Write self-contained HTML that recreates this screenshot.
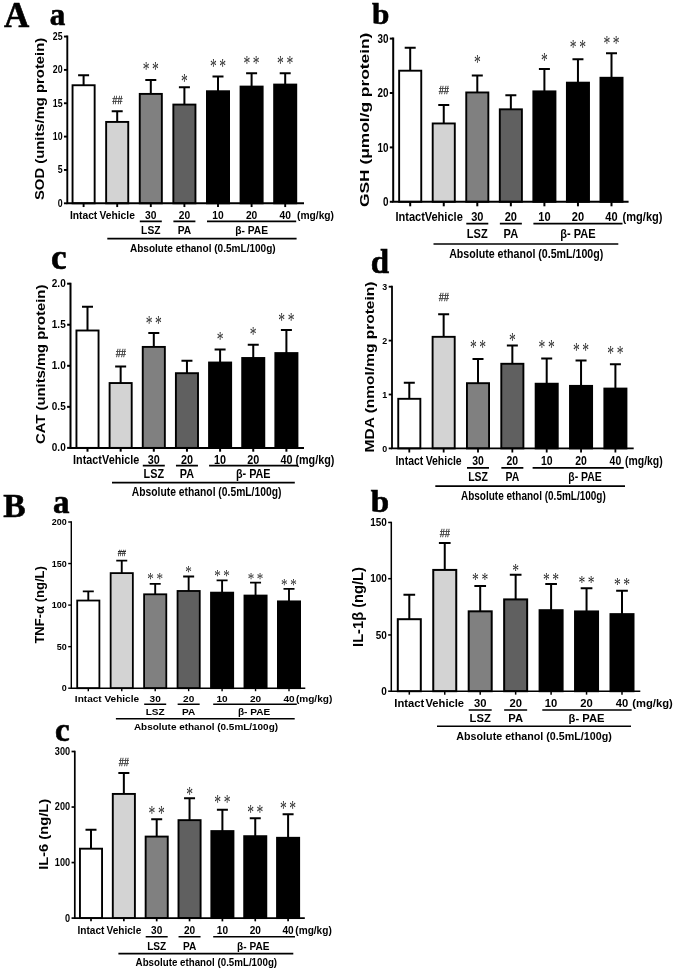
<!DOCTYPE html>
<html lang="en"><head><meta charset="utf-8"><title>Figure</title>
<style>
html,body{margin:0;padding:0;background:#fff}
svg{display:block;filter:grayscale(1)}
.s{font-family:"Liberation Sans","DejaVu Sans",sans-serif}
.r{font-family:"Liberation Serif","DejaVu Serif",serif}
</style></head><body>
<svg width="675" height="972" viewBox="0 0 675 972">
<rect width="675" height="972" fill="#fff"/>
<text class="r" transform="translate(4.00 27.30) scale(1.000 1.000)" font-size="35" text-anchor="start" font-weight="bold" fill="#000" stroke="#000" stroke-width="0.6">A</text>
<text class="r" transform="translate(3.30 517.20) scale(1.000 1.000)" font-size="33.5" text-anchor="start" font-weight="bold" fill="#000" stroke="#000" stroke-width="0.6">B</text>
<g>
<path d="M83.60 85.24V75.24M78.10 75.24H89.10" stroke="#000" stroke-width="2.0" fill="none"/>
<rect x="72.55" y="85.24" width="22.10" height="118.06" fill="#ffffff" stroke="#000" stroke-width="1.9"/>
<path d="M83.60 203.30v3.75" stroke="#000" stroke-width="1.9"/>
<path d="M117.20 121.93V111.25M111.70 111.25H122.70" stroke="#000" stroke-width="2.0" fill="none"/>
<rect x="106.15" y="121.93" width="22.10" height="81.37" fill="#d3d3d3" stroke="#000" stroke-width="1.9"/>
<path d="M117.20 203.30v3.75" stroke="#000" stroke-width="1.9"/>
<text class="s" transform="translate(117.20 104.17) scale(0.860 1.000)" font-size="10.5" text-anchor="middle" fill="#222" font-style="italic" stroke="#222" stroke-width="0.25">##</text>
<path d="M150.80 93.91V79.91M145.30 79.91H156.30" stroke="#000" stroke-width="2.0" fill="none"/>
<rect x="139.75" y="93.91" width="22.10" height="109.39" fill="#808080" stroke="#000" stroke-width="1.9"/>
<path d="M150.80 203.30v3.75" stroke="#000" stroke-width="1.9"/>
<text class="r" transform="translate(152.05 75.69) scale(0.850 1.300)" font-size="16" text-anchor="middle" fill="#2a2a2a" letter-spacing="3">**</text>
<path d="M184.40 104.58V87.24M178.90 87.24H189.90" stroke="#000" stroke-width="2.0" fill="none"/>
<rect x="173.35" y="104.58" width="22.10" height="98.72" fill="#606060" stroke="#000" stroke-width="1.9"/>
<path d="M184.40 203.30v3.75" stroke="#000" stroke-width="1.9"/>
<text class="r" transform="translate(185.65 87.69) scale(0.850 1.300)" font-size="16" text-anchor="middle" fill="#2a2a2a" letter-spacing="3">*</text>
<path d="M218.00 91.24V76.57M212.50 76.57H223.50" stroke="#000" stroke-width="2.0" fill="none"/>
<rect x="206.95" y="91.24" width="22.10" height="112.06" fill="#000000" stroke="#000" stroke-width="1.9"/>
<path d="M218.00 203.30v3.75" stroke="#000" stroke-width="1.9"/>
<text class="r" transform="translate(219.25 73.19) scale(0.850 1.300)" font-size="16" text-anchor="middle" fill="#2a2a2a" letter-spacing="3">**</text>
<path d="M251.60 86.58V73.24M246.10 73.24H257.10" stroke="#000" stroke-width="2.0" fill="none"/>
<rect x="240.55" y="86.58" width="22.10" height="116.72" fill="#000000" stroke="#000" stroke-width="1.9"/>
<path d="M251.60 203.30v3.75" stroke="#000" stroke-width="1.9"/>
<text class="r" transform="translate(252.85 69.69) scale(0.850 1.300)" font-size="16" text-anchor="middle" fill="#2a2a2a" letter-spacing="3">**</text>
<path d="M285.20 84.57V73.24M279.70 73.24H290.70" stroke="#000" stroke-width="2.0" fill="none"/>
<rect x="274.15" y="84.57" width="22.10" height="118.73" fill="#000000" stroke="#000" stroke-width="1.9"/>
<path d="M285.20 203.30v3.75" stroke="#000" stroke-width="1.9"/>
<text class="r" transform="translate(286.45 70.19) scale(0.850 1.300)" font-size="16" text-anchor="middle" fill="#2a2a2a" letter-spacing="3">**</text>
<path d="M67.30 35.60V203.30H304.00" stroke="#000" stroke-width="1.9" fill="none"/>
<path d="M67.30 36.55h-3.35" stroke="#000" stroke-width="1.9"/>
<text class="s" transform="translate(62.55 39.92) scale(0.870 1.000)" font-size="10.088" text-anchor="end" font-weight="bold" fill="#000">25</text>
<path d="M67.30 69.90h-3.35" stroke="#000" stroke-width="1.9"/>
<text class="s" transform="translate(62.55 73.27) scale(0.870 1.000)" font-size="10.088" text-anchor="end" font-weight="bold" fill="#000">20</text>
<path d="M67.30 103.25h-3.35" stroke="#000" stroke-width="1.9"/>
<text class="s" transform="translate(62.55 106.62) scale(0.870 1.000)" font-size="10.088" text-anchor="end" font-weight="bold" fill="#000">15</text>
<path d="M67.30 136.60h-3.35" stroke="#000" stroke-width="1.9"/>
<text class="s" transform="translate(62.55 139.97) scale(0.870 1.000)" font-size="10.088" text-anchor="end" font-weight="bold" fill="#000">10</text>
<path d="M67.30 169.95h-3.35" stroke="#000" stroke-width="1.9"/>
<text class="s" transform="translate(62.55 173.32) scale(0.870 1.000)" font-size="10.088" text-anchor="end" font-weight="bold" fill="#000">5</text>
<path d="M67.30 203.30h-3.35" stroke="#000" stroke-width="1.9"/>
<text class="s" transform="translate(62.55 206.67) scale(0.870 1.000)" font-size="10.088" text-anchor="end" font-weight="bold" fill="#000">0</text>
<text class="s" transform="translate(44.20 118.90) rotate(-90) scale(1.169 1)" font-size="12.7" text-anchor="middle" font-weight="bold">SOD (units/mg protein)</text>
<text class="s" transform="translate(83.60 219.22) scale(0.870 1.000)" font-size="11.8" text-anchor="middle" font-weight="bold" fill="#000">Intact</text>
<text class="s" transform="translate(117.20 219.22) scale(0.870 1.000)" font-size="11.8" text-anchor="middle" font-weight="bold" fill="#000">Vehicle</text>
<text class="s" transform="translate(150.80 219.22) scale(0.870 1.000)" font-size="11.8" text-anchor="middle" font-weight="bold" fill="#000">30</text>
<text class="s" transform="translate(184.40 219.22) scale(0.870 1.000)" font-size="11.8" text-anchor="middle" font-weight="bold" fill="#000">20</text>
<text class="s" transform="translate(218.00 219.22) scale(0.870 1.000)" font-size="11.8" text-anchor="middle" font-weight="bold" fill="#000">10</text>
<text class="s" transform="translate(251.60 219.22) scale(0.870 1.000)" font-size="11.8" text-anchor="middle" font-weight="bold" fill="#000">20</text>
<text class="s" transform="translate(285.20 219.22) scale(0.870 1.000)" font-size="11.8" text-anchor="middle" font-weight="bold" fill="#000">40</text>
<text class="s" transform="translate(297.00 219.22) scale(0.870 1.000)" font-size="11.8" text-anchor="start" font-weight="bold" fill="#000">(mg/kg)</text>
<path d="M139.80 221.30H161.80M173.40 221.30H195.40M207.00 221.30H296.20" stroke="#000" stroke-width="1.7"/>
<text class="s" transform="translate(150.80 233.92) scale(0.870 1.000)" font-size="11.8" text-anchor="middle" font-weight="bold" fill="#000">LSZ</text>
<text class="s" transform="translate(184.40 233.92) scale(0.870 1.000)" font-size="11.8" text-anchor="middle" font-weight="bold" fill="#000">PA</text>
<text class="s" transform="translate(251.60 233.92) scale(0.870 1.000)" font-size="11.8" text-anchor="middle" font-weight="bold" fill="#000">β- PAE</text>
<path d="M107.30 238.70H296.60" stroke="#000" stroke-width="1.7"/>
<text class="s" transform="translate(129.90 251.62) scale(0.853 1.000)" font-size="11.8" text-anchor="start" font-weight="bold" fill="#000">Absolute ethanol (0.5mL/100g)</text>
<text class="r" transform="translate(49.80 24.80) scale(1.000 1.000)" font-size="31" text-anchor="start" font-weight="bold" fill="#000" stroke="#000" stroke-width="0.6">a</text>
</g>
<g>
<path d="M410.20 70.70V47.85M404.70 47.85H415.70" stroke="#000" stroke-width="2.0" fill="none"/>
<rect x="399.15" y="70.70" width="22.10" height="131.10" fill="#ffffff" stroke="#000" stroke-width="1.9"/>
<path d="M410.20 201.80v4.50" stroke="#000" stroke-width="2.0"/>
<path d="M443.75 123.46V104.97M438.25 104.97H449.25" stroke="#000" stroke-width="2.0" fill="none"/>
<rect x="432.70" y="123.46" width="22.10" height="78.34" fill="#d3d3d3" stroke="#000" stroke-width="1.9"/>
<path d="M443.75 201.80v4.50" stroke="#000" stroke-width="2.0"/>
<text class="s" transform="translate(443.75 93.67) scale(0.860 1.000)" font-size="10.5" text-anchor="middle" fill="#222" font-style="italic" stroke="#222" stroke-width="0.25">##</text>
<path d="M477.30 92.46V75.59M471.80 75.59H482.80" stroke="#000" stroke-width="2.0" fill="none"/>
<rect x="466.25" y="92.46" width="22.10" height="109.34" fill="#808080" stroke="#000" stroke-width="1.9"/>
<path d="M477.30 201.80v4.50" stroke="#000" stroke-width="2.0"/>
<text class="r" transform="translate(478.55 69.19) scale(0.850 1.300)" font-size="16" text-anchor="middle" fill="#2a2a2a" letter-spacing="3">*</text>
<path d="M510.85 109.32V95.18M505.35 95.18H516.35" stroke="#000" stroke-width="2.0" fill="none"/>
<rect x="499.80" y="109.32" width="22.10" height="92.48" fill="#606060" stroke="#000" stroke-width="1.9"/>
<path d="M510.85 201.80v4.50" stroke="#000" stroke-width="2.0"/>
<path d="M544.40 91.37V69.06M538.90 69.06H549.90" stroke="#000" stroke-width="2.0" fill="none"/>
<rect x="533.35" y="91.37" width="22.10" height="110.43" fill="#000000" stroke="#000" stroke-width="1.9"/>
<path d="M544.40 201.80v4.50" stroke="#000" stroke-width="2.0"/>
<text class="r" transform="translate(545.65 67.49) scale(0.850 1.300)" font-size="16" text-anchor="middle" fill="#2a2a2a" letter-spacing="3">*</text>
<path d="M577.95 82.66V59.27M572.45 59.27H583.45" stroke="#000" stroke-width="2.0" fill="none"/>
<rect x="566.90" y="82.66" width="22.10" height="119.14" fill="#000000" stroke="#000" stroke-width="1.9"/>
<path d="M577.95 201.80v4.50" stroke="#000" stroke-width="2.0"/>
<text class="r" transform="translate(579.20 54.19) scale(0.850 1.300)" font-size="16" text-anchor="middle" fill="#2a2a2a" letter-spacing="3">**</text>
<path d="M611.50 77.77V53.29M606.00 53.29H617.00" stroke="#000" stroke-width="2.0" fill="none"/>
<rect x="600.45" y="77.77" width="22.10" height="124.03" fill="#000000" stroke="#000" stroke-width="1.9"/>
<path d="M611.50 201.80v4.50" stroke="#000" stroke-width="2.0"/>
<text class="r" transform="translate(612.75 49.69) scale(0.850 1.300)" font-size="16" text-anchor="middle" fill="#2a2a2a" letter-spacing="3">**</text>
<path d="M393.20 37.60V201.80H628.60" stroke="#000" stroke-width="2.0" fill="none"/>
<path d="M393.20 38.60h-3.40" stroke="#000" stroke-width="2.0"/>
<text class="s" transform="translate(388.40 42.80) scale(0.800 1.000)" font-size="12.376000000000001" text-anchor="end" font-weight="bold" fill="#000">30</text>
<path d="M393.20 93.00h-3.40" stroke="#000" stroke-width="2.0"/>
<text class="s" transform="translate(388.40 97.20) scale(0.800 1.000)" font-size="12.376000000000001" text-anchor="end" font-weight="bold" fill="#000">20</text>
<path d="M393.20 147.40h-3.40" stroke="#000" stroke-width="2.0"/>
<text class="s" transform="translate(388.40 151.60) scale(0.800 1.000)" font-size="12.376000000000001" text-anchor="end" font-weight="bold" fill="#000">10</text>
<path d="M393.20 201.80h-3.40" stroke="#000" stroke-width="2.0"/>
<text class="s" transform="translate(388.40 206.00) scale(0.800 1.000)" font-size="12.376000000000001" text-anchor="end" font-weight="bold" fill="#000">0</text>
<text class="s" transform="translate(368.60 119.80) rotate(-90) scale(1.285 1)" font-size="13.5" text-anchor="middle" font-weight="bold">GSH (μmol/g protein)</text>
<text class="s" transform="translate(410.20 221.23) scale(0.838 1.000)" font-size="13.2" text-anchor="middle" font-weight="bold" fill="#000">Intact</text>
<text class="s" transform="translate(443.75 221.23) scale(0.838 1.000)" font-size="13.2" text-anchor="middle" font-weight="bold" fill="#000">Vehicle</text>
<text class="s" transform="translate(477.30 221.23) scale(0.838 1.000)" font-size="13.2" text-anchor="middle" font-weight="bold" fill="#000">30</text>
<text class="s" transform="translate(510.85 221.23) scale(0.838 1.000)" font-size="13.2" text-anchor="middle" font-weight="bold" fill="#000">20</text>
<text class="s" transform="translate(544.40 221.23) scale(0.838 1.000)" font-size="13.2" text-anchor="middle" font-weight="bold" fill="#000">10</text>
<text class="s" transform="translate(577.95 221.23) scale(0.838 1.000)" font-size="13.2" text-anchor="middle" font-weight="bold" fill="#000">20</text>
<text class="s" transform="translate(611.50 221.23) scale(0.838 1.000)" font-size="13.2" text-anchor="middle" font-weight="bold" fill="#000">40</text>
<text class="s" transform="translate(622.60 221.23) scale(0.838 1.000)" font-size="13.2" text-anchor="start" font-weight="bold" fill="#000">(mg/kg)</text>
<path d="M466.30 223.70H488.30M499.85 223.70H521.85M533.40 223.70H622.50" stroke="#000" stroke-width="1.7"/>
<text class="s" transform="translate(477.30 238.13) scale(0.838 1.000)" font-size="13.2" text-anchor="middle" font-weight="bold" fill="#000">LSZ</text>
<text class="s" transform="translate(510.85 238.13) scale(0.838 1.000)" font-size="13.2" text-anchor="middle" font-weight="bold" fill="#000">PA</text>
<text class="s" transform="translate(577.95 238.13) scale(0.838 1.000)" font-size="13.2" text-anchor="middle" font-weight="bold" fill="#000">β- PAE</text>
<path d="M433.50 244.00H618.30" stroke="#000" stroke-width="1.7"/>
<text class="s" transform="translate(449.20 257.63) scale(0.806 1.000)" font-size="13.2" text-anchor="start" font-weight="bold" fill="#000">Absolute ethanol (0.5mL/100g)</text>
<text class="r" transform="translate(372.00 24.00) scale(1.060 1.000)" font-size="29.5" text-anchor="start" font-weight="bold" fill="#000" stroke="#000" stroke-width="0.6">b</text>
</g>
<g>
<path d="M87.50 330.50V306.69M82.00 306.69H93.00" stroke="#000" stroke-width="2.0" fill="none"/>
<rect x="76.45" y="330.50" width="22.10" height="117.40" fill="#ffffff" stroke="#000" stroke-width="1.9"/>
<path d="M87.50 447.90v3.80" stroke="#000" stroke-width="2.0"/>
<path d="M120.65 383.04V366.62M115.15 366.62H126.15" stroke="#000" stroke-width="2.0" fill="none"/>
<rect x="109.60" y="383.04" width="22.10" height="64.86" fill="#d3d3d3" stroke="#000" stroke-width="1.9"/>
<path d="M120.65 447.90v3.80" stroke="#000" stroke-width="2.0"/>
<text class="s" transform="translate(120.65 357.18) scale(0.860 1.000)" font-size="10.5" text-anchor="middle" fill="#222" font-style="italic" stroke="#222" stroke-width="0.25">##</text>
<path d="M153.80 346.92V332.96M148.30 332.96H159.30" stroke="#000" stroke-width="2.0" fill="none"/>
<rect x="142.75" y="346.92" width="22.10" height="100.98" fill="#808080" stroke="#000" stroke-width="1.9"/>
<path d="M153.80 447.90v3.80" stroke="#000" stroke-width="2.0"/>
<text class="r" transform="translate(155.05 330.19) scale(0.850 1.300)" font-size="16" text-anchor="middle" fill="#2a2a2a" letter-spacing="3">**</text>
<path d="M186.95 373.19V360.87M181.45 360.87H192.45" stroke="#000" stroke-width="2.0" fill="none"/>
<rect x="175.90" y="373.19" width="22.10" height="74.71" fill="#606060" stroke="#000" stroke-width="1.9"/>
<path d="M186.95 447.90v3.80" stroke="#000" stroke-width="2.0"/>
<path d="M220.10 362.52V349.38M214.60 349.38H225.60" stroke="#000" stroke-width="2.0" fill="none"/>
<rect x="209.05" y="362.52" width="22.10" height="85.38" fill="#000000" stroke="#000" stroke-width="1.9"/>
<path d="M220.10 447.90v3.80" stroke="#000" stroke-width="2.0"/>
<text class="r" transform="translate(221.35 346.19) scale(0.850 1.300)" font-size="16" text-anchor="middle" fill="#2a2a2a" letter-spacing="3">*</text>
<path d="M253.25 358.00V344.86M247.75 344.86H258.75" stroke="#000" stroke-width="2.0" fill="none"/>
<rect x="242.20" y="358.00" width="22.10" height="89.90" fill="#000000" stroke="#000" stroke-width="1.9"/>
<path d="M253.25 447.90v3.80" stroke="#000" stroke-width="2.0"/>
<text class="r" transform="translate(254.50 341.19) scale(0.850 1.300)" font-size="16" text-anchor="middle" fill="#2a2a2a" letter-spacing="3">*</text>
<path d="M286.40 353.07V330.09M280.90 330.09H291.90" stroke="#000" stroke-width="2.0" fill="none"/>
<rect x="275.35" y="353.07" width="22.10" height="94.83" fill="#000000" stroke="#000" stroke-width="1.9"/>
<path d="M286.40 447.90v3.80" stroke="#000" stroke-width="2.0"/>
<text class="r" transform="translate(287.65 327.19) scale(0.850 1.300)" font-size="16" text-anchor="middle" fill="#2a2a2a" letter-spacing="3">**</text>
<path d="M70.50 282.70V447.90H304.00" stroke="#000" stroke-width="2.0" fill="none"/>
<path d="M70.50 283.70h-3.40" stroke="#000" stroke-width="2.0"/>
<text class="s" transform="translate(65.70 287.11) scale(0.980 1.000)" font-size="10.192000000000002" text-anchor="end" font-weight="bold" fill="#000">2.0</text>
<path d="M70.50 324.75h-3.40" stroke="#000" stroke-width="2.0"/>
<text class="s" transform="translate(65.70 328.16) scale(0.980 1.000)" font-size="10.192000000000002" text-anchor="end" font-weight="bold" fill="#000">1.5</text>
<path d="M70.50 365.80h-3.40" stroke="#000" stroke-width="2.0"/>
<text class="s" transform="translate(65.70 369.21) scale(0.980 1.000)" font-size="10.192000000000002" text-anchor="end" font-weight="bold" fill="#000">1.0</text>
<path d="M70.50 406.85h-3.40" stroke="#000" stroke-width="2.0"/>
<text class="s" transform="translate(65.70 410.26) scale(0.980 1.000)" font-size="10.192000000000002" text-anchor="end" font-weight="bold" fill="#000">0.5</text>
<path d="M70.50 447.90h-3.40" stroke="#000" stroke-width="2.0"/>
<text class="s" transform="translate(65.70 451.31) scale(0.980 1.000)" font-size="10.192000000000002" text-anchor="end" font-weight="bold" fill="#000">0.0</text>
<text class="s" transform="translate(44.80 364.30) rotate(-90) scale(1.098 1)" font-size="13.5" text-anchor="middle" font-weight="bold">CAT (units/mg protein)</text>
<text class="s" transform="translate(87.50 463.60) scale(0.880 1.000)" font-size="12.3" text-anchor="middle" font-weight="bold" fill="#000">Intact</text>
<text class="s" transform="translate(120.65 463.60) scale(0.880 1.000)" font-size="12.3" text-anchor="middle" font-weight="bold" fill="#000">Vehicle</text>
<text class="s" transform="translate(153.80 463.60) scale(0.880 1.000)" font-size="12.3" text-anchor="middle" font-weight="bold" fill="#000">30</text>
<text class="s" transform="translate(186.95 463.60) scale(0.880 1.000)" font-size="12.3" text-anchor="middle" font-weight="bold" fill="#000">20</text>
<text class="s" transform="translate(220.10 463.60) scale(0.880 1.000)" font-size="12.3" text-anchor="middle" font-weight="bold" fill="#000">10</text>
<text class="s" transform="translate(253.25 463.60) scale(0.880 1.000)" font-size="12.3" text-anchor="middle" font-weight="bold" fill="#000">20</text>
<text class="s" transform="translate(286.40 463.60) scale(0.880 1.000)" font-size="12.3" text-anchor="middle" font-weight="bold" fill="#000">40</text>
<text class="s" transform="translate(295.40 463.60) scale(0.880 1.000)" font-size="12.3" text-anchor="start" font-weight="bold" fill="#000">(mg/kg)</text>
<path d="M142.80 465.60H164.80M175.95 465.60H197.95M209.10 465.60H297.40" stroke="#000" stroke-width="1.7"/>
<text class="s" transform="translate(153.80 478.00) scale(0.880 1.000)" font-size="12.3" text-anchor="middle" font-weight="bold" fill="#000">LSZ</text>
<text class="s" transform="translate(186.95 478.00) scale(0.880 1.000)" font-size="12.3" text-anchor="middle" font-weight="bold" fill="#000">PA</text>
<text class="s" transform="translate(253.25 478.00) scale(0.880 1.000)" font-size="12.3" text-anchor="middle" font-weight="bold" fill="#000">β- PAE</text>
<path d="M112.00 482.60H294.80" stroke="#000" stroke-width="1.7"/>
<text class="s" transform="translate(131.80 495.80) scale(0.840 1.000)" font-size="12.3" text-anchor="start" font-weight="bold" fill="#000">Absolute ethanol (0.5mL/100g)</text>
<text class="r" transform="translate(51.00 268.80) scale(1.000 1.000)" font-size="35" text-anchor="start" font-weight="bold" fill="#000" stroke="#000" stroke-width="0.6">c</text>
</g>
<g>
<path d="M409.30 398.81V382.64M403.80 382.64H414.80" stroke="#000" stroke-width="2.0" fill="none"/>
<rect x="398.25" y="398.81" width="22.10" height="49.59" fill="#ffffff" stroke="#000" stroke-width="1.9"/>
<path d="M409.30 448.40v4.10" stroke="#000" stroke-width="1.8"/>
<path d="M443.65 336.83V314.19M438.15 314.19H449.15" stroke="#000" stroke-width="2.0" fill="none"/>
<rect x="432.60" y="336.83" width="22.10" height="111.57" fill="#d3d3d3" stroke="#000" stroke-width="1.9"/>
<path d="M443.65 448.40v4.10" stroke="#000" stroke-width="1.8"/>
<text class="s" transform="translate(443.65 300.68) scale(0.860 1.000)" font-size="10.5" text-anchor="middle" fill="#222" font-style="italic" stroke="#222" stroke-width="0.25">##</text>
<path d="M478.00 383.18V358.93M472.50 358.93H483.50" stroke="#000" stroke-width="2.0" fill="none"/>
<rect x="466.95" y="383.18" width="22.10" height="65.22" fill="#808080" stroke="#000" stroke-width="1.9"/>
<path d="M478.00 448.40v4.10" stroke="#000" stroke-width="1.8"/>
<text class="r" transform="translate(479.25 354.19) scale(0.850 1.300)" font-size="16" text-anchor="middle" fill="#2a2a2a" letter-spacing="3">**</text>
<path d="M512.35 363.78V345.45M506.85 345.45H517.85" stroke="#000" stroke-width="2.0" fill="none"/>
<rect x="501.30" y="363.78" width="22.10" height="84.62" fill="#606060" stroke="#000" stroke-width="1.9"/>
<path d="M512.35 448.40v4.10" stroke="#000" stroke-width="1.8"/>
<text class="r" transform="translate(513.60 347.49) scale(0.850 1.300)" font-size="16" text-anchor="middle" fill="#2a2a2a" letter-spacing="3">*</text>
<path d="M546.70 383.72V358.39M541.20 358.39H552.20" stroke="#000" stroke-width="2.0" fill="none"/>
<rect x="535.65" y="383.72" width="22.10" height="64.68" fill="#000000" stroke="#000" stroke-width="1.9"/>
<path d="M546.70 448.40v4.10" stroke="#000" stroke-width="1.8"/>
<text class="r" transform="translate(547.95 354.19) scale(0.850 1.300)" font-size="16" text-anchor="middle" fill="#2a2a2a" letter-spacing="3">**</text>
<path d="M581.05 385.88V360.54M575.55 360.54H586.55" stroke="#000" stroke-width="2.0" fill="none"/>
<rect x="570.00" y="385.88" width="22.10" height="62.52" fill="#000000" stroke="#000" stroke-width="1.9"/>
<path d="M581.05 448.40v4.10" stroke="#000" stroke-width="1.8"/>
<text class="r" transform="translate(582.30 356.89) scale(0.850 1.300)" font-size="16" text-anchor="middle" fill="#2a2a2a" letter-spacing="3">**</text>
<path d="M615.40 388.57V364.32M609.90 364.32H620.90" stroke="#000" stroke-width="2.0" fill="none"/>
<rect x="604.35" y="388.57" width="22.10" height="59.83" fill="#000000" stroke="#000" stroke-width="1.9"/>
<path d="M615.40 448.40v4.10" stroke="#000" stroke-width="1.8"/>
<text class="r" transform="translate(616.65 360.19) scale(0.850 1.300)" font-size="16" text-anchor="middle" fill="#2a2a2a" letter-spacing="3">**</text>
<path d="M392.00 285.80V448.40H633.70" stroke="#000" stroke-width="1.8" fill="none"/>
<path d="M392.00 286.70h-3.30" stroke="#000" stroke-width="1.8"/>
<text class="s" transform="translate(387.30 290.00) scale(0.900 1.000)" font-size="9.88" text-anchor="end" font-weight="bold" fill="#000">3</text>
<path d="M392.00 340.60h-3.30" stroke="#000" stroke-width="1.8"/>
<text class="s" transform="translate(387.30 343.90) scale(0.900 1.000)" font-size="9.88" text-anchor="end" font-weight="bold" fill="#000">2</text>
<path d="M392.00 394.50h-3.30" stroke="#000" stroke-width="1.8"/>
<text class="s" transform="translate(387.30 397.80) scale(0.900 1.000)" font-size="9.88" text-anchor="end" font-weight="bold" fill="#000">1</text>
<path d="M392.00 448.40h-3.30" stroke="#000" stroke-width="1.8"/>
<text class="s" transform="translate(387.30 451.70) scale(0.900 1.000)" font-size="9.88" text-anchor="end" font-weight="bold" fill="#000">0</text>
<text class="s" transform="translate(374.20 367.00) rotate(-90) scale(1.167 1)" font-size="13.3" text-anchor="middle" font-weight="bold">MDA (nmol/mg protein)</text>
<text class="s" transform="translate(409.30 465.40) scale(0.850 1.000)" font-size="12.3" text-anchor="middle" font-weight="bold" fill="#000">Intact</text>
<text class="s" transform="translate(443.65 465.40) scale(0.850 1.000)" font-size="12.3" text-anchor="middle" font-weight="bold" fill="#000">Vehicle</text>
<text class="s" transform="translate(478.00 465.40) scale(0.850 1.000)" font-size="12.3" text-anchor="middle" font-weight="bold" fill="#000">30</text>
<text class="s" transform="translate(512.35 465.40) scale(0.850 1.000)" font-size="12.3" text-anchor="middle" font-weight="bold" fill="#000">20</text>
<text class="s" transform="translate(546.70 465.40) scale(0.850 1.000)" font-size="12.3" text-anchor="middle" font-weight="bold" fill="#000">10</text>
<text class="s" transform="translate(581.05 465.40) scale(0.850 1.000)" font-size="12.3" text-anchor="middle" font-weight="bold" fill="#000">20</text>
<text class="s" transform="translate(615.40 465.40) scale(0.850 1.000)" font-size="12.3" text-anchor="middle" font-weight="bold" fill="#000">40</text>
<text class="s" transform="translate(625.00 465.40) scale(0.850 1.000)" font-size="12.3" text-anchor="start" font-weight="bold" fill="#000">(mg/kg)</text>
<path d="M467.00 467.80H489.00M501.35 467.80H523.35M532.60 467.80H623.80" stroke="#000" stroke-width="1.7"/>
<text class="s" transform="translate(478.00 481.10) scale(0.850 1.000)" font-size="12.3" text-anchor="middle" font-weight="bold" fill="#000">LSZ</text>
<text class="s" transform="translate(512.35 481.10) scale(0.850 1.000)" font-size="12.3" text-anchor="middle" font-weight="bold" fill="#000">PA</text>
<text class="s" transform="translate(585.05 481.10) scale(0.850 1.000)" font-size="12.3" text-anchor="middle" font-weight="bold" fill="#000">β- PAE</text>
<path d="M435.30 486.20H625.00" stroke="#000" stroke-width="1.7"/>
<text class="s" transform="translate(461.00 499.80) scale(0.813 1.000)" font-size="12.3" text-anchor="start" font-weight="bold" fill="#000">Absolute ethanol (0.5mL/100g)</text>
<text class="r" transform="translate(370.80 273.40) scale(1.000 1.000)" font-size="33" text-anchor="start" font-weight="bold" fill="#000" stroke="#000" stroke-width="0.6">d</text>
</g>
<g>
<path d="M88.30 600.53V591.39M82.80 591.39H93.80" stroke="#000" stroke-width="1.9" fill="none"/>
<rect x="77.20" y="600.53" width="22.20" height="87.67" fill="#ffffff" stroke="#000" stroke-width="1.8"/>
<path d="M88.30 688.20v3.00" stroke="#000" stroke-width="1.4"/>
<path d="M121.75 573.11V560.64M116.25 560.64H127.25" stroke="#000" stroke-width="1.9" fill="none"/>
<rect x="110.65" y="573.11" width="22.20" height="115.09" fill="#d3d3d3" stroke="#000" stroke-width="1.8"/>
<path d="M121.75 688.20v3.00" stroke="#000" stroke-width="1.4"/>
<text class="s" transform="translate(121.75 555.77) scale(0.860 1.000)" font-size="8.5" text-anchor="middle" fill="#222" font-style="italic" stroke="#222" stroke-width="0.25">##</text>
<path d="M155.20 594.30V583.91M149.70 583.91H160.70" stroke="#000" stroke-width="1.9" fill="none"/>
<rect x="144.10" y="594.30" width="22.20" height="93.90" fill="#808080" stroke="#000" stroke-width="1.8"/>
<path d="M155.20 688.20v3.00" stroke="#000" stroke-width="1.4"/>
<text class="r" transform="translate(156.45 584.27) scale(0.850 1.050)" font-size="15.5" text-anchor="middle" fill="#2a2a2a" letter-spacing="3">**</text>
<path d="M188.65 590.97V576.43M183.15 576.43H194.15" stroke="#000" stroke-width="1.9" fill="none"/>
<rect x="177.55" y="590.97" width="22.20" height="97.23" fill="#606060" stroke="#000" stroke-width="1.8"/>
<path d="M188.65 688.20v3.00" stroke="#000" stroke-width="1.4"/>
<text class="r" transform="translate(189.90 576.97) scale(0.850 1.050)" font-size="15.5" text-anchor="middle" fill="#2a2a2a" letter-spacing="3">*</text>
<path d="M222.10 592.63V580.42M216.60 580.42H227.60" stroke="#000" stroke-width="1.9" fill="none"/>
<rect x="211.00" y="592.63" width="22.20" height="95.57" fill="#000000" stroke="#000" stroke-width="1.8"/>
<path d="M222.10 688.20v3.00" stroke="#000" stroke-width="1.4"/>
<text class="r" transform="translate(223.35 580.97) scale(0.850 1.050)" font-size="15.5" text-anchor="middle" fill="#2a2a2a" letter-spacing="3">**</text>
<path d="M255.55 595.54V582.66M250.05 582.66H261.05" stroke="#000" stroke-width="1.9" fill="none"/>
<rect x="244.45" y="595.54" width="22.20" height="92.66" fill="#000000" stroke="#000" stroke-width="1.8"/>
<path d="M255.55 688.20v3.00" stroke="#000" stroke-width="1.4"/>
<text class="r" transform="translate(256.80 583.77) scale(0.850 1.050)" font-size="15.5" text-anchor="middle" fill="#2a2a2a" letter-spacing="3">**</text>
<path d="M289.00 601.36V588.90M283.50 588.90H294.50" stroke="#000" stroke-width="1.9" fill="none"/>
<rect x="277.90" y="601.36" width="22.20" height="86.84" fill="#000000" stroke="#000" stroke-width="1.8"/>
<path d="M289.00 688.20v3.00" stroke="#000" stroke-width="1.4"/>
<text class="r" transform="translate(290.25 589.67) scale(0.850 1.050)" font-size="15.5" text-anchor="middle" fill="#2a2a2a" letter-spacing="3">**</text>
<path d="M71.30 521.30V688.20H305.30" stroke="#000" stroke-width="1.4" fill="none"/>
<path d="M71.30 522.00h-3.10" stroke="#000" stroke-width="1.4"/>
<text class="s" transform="translate(66.80 525.03) scale(0.980 1.000)" font-size="9.152000000000001" text-anchor="end" font-weight="bold" fill="#000">200</text>
<path d="M71.30 563.55h-3.10" stroke="#000" stroke-width="1.4"/>
<text class="s" transform="translate(66.80 566.58) scale(0.980 1.000)" font-size="9.152000000000001" text-anchor="end" font-weight="bold" fill="#000">150</text>
<path d="M71.30 605.10h-3.10" stroke="#000" stroke-width="1.4"/>
<text class="s" transform="translate(66.80 608.13) scale(0.980 1.000)" font-size="9.152000000000001" text-anchor="end" font-weight="bold" fill="#000">100</text>
<path d="M71.30 646.65h-3.10" stroke="#000" stroke-width="1.4"/>
<text class="s" transform="translate(66.80 649.68) scale(0.980 1.000)" font-size="9.152000000000001" text-anchor="end" font-weight="bold" fill="#000">50</text>
<path d="M71.30 688.20h-3.10" stroke="#000" stroke-width="1.4"/>
<text class="s" transform="translate(66.80 691.23) scale(0.980 1.000)" font-size="9.152000000000001" text-anchor="end" font-weight="bold" fill="#000">0</text>
<text class="s" transform="translate(44.00 604.90) rotate(-90) scale(1.010 1)" font-size="12.9" text-anchor="middle" font-weight="bold">TNF-α (ng/L)</text>
<text class="s" transform="translate(88.30 701.57) scale(1.040 1.000)" font-size="9.7" text-anchor="middle" font-weight="bold" fill="#000">Intact</text>
<text class="s" transform="translate(121.75 701.57) scale(1.040 1.000)" font-size="9.7" text-anchor="middle" font-weight="bold" fill="#000">Vehicle</text>
<text class="s" transform="translate(155.20 701.57) scale(1.040 1.000)" font-size="9.7" text-anchor="middle" font-weight="bold" fill="#000">30</text>
<text class="s" transform="translate(188.65 701.57) scale(1.040 1.000)" font-size="9.7" text-anchor="middle" font-weight="bold" fill="#000">20</text>
<text class="s" transform="translate(222.10 701.57) scale(1.040 1.000)" font-size="9.7" text-anchor="middle" font-weight="bold" fill="#000">10</text>
<text class="s" transform="translate(255.55 701.57) scale(1.040 1.000)" font-size="9.7" text-anchor="middle" font-weight="bold" fill="#000">20</text>
<text class="s" transform="translate(289.00 701.57) scale(1.040 1.000)" font-size="9.7" text-anchor="middle" font-weight="bold" fill="#000">40</text>
<text class="s" transform="translate(295.90 701.57) scale(1.040 1.000)" font-size="9.7" text-anchor="start" font-weight="bold" fill="#000">(mg/kg)</text>
<path d="M144.20 704.30H166.20M177.65 704.30H199.65M213.20 704.30H296.80" stroke="#000" stroke-width="1.4"/>
<text class="s" transform="translate(155.20 714.67) scale(1.040 1.000)" font-size="9.7" text-anchor="middle" font-weight="bold" fill="#000">LSZ</text>
<text class="s" transform="translate(188.65 714.67) scale(1.040 1.000)" font-size="9.7" text-anchor="middle" font-weight="bold" fill="#000">PA</text>
<text class="s" transform="translate(254.05 714.67) scale(1.040 1.000)" font-size="9.7" text-anchor="middle" font-weight="bold" fill="#000">β- PAE</text>
<path d="M115.90 718.80H294.70" stroke="#000" stroke-width="1.4"/>
<text class="s" transform="translate(133.90 730.07) scale(1.026 1.000)" font-size="9.7" text-anchor="start" font-weight="bold" fill="#000">Absolute ethanol (0.5mL/100g)</text>
<text class="r" transform="translate(53.10 512.60) scale(1.000 1.000)" font-size="33" text-anchor="start" font-weight="bold" fill="#000" stroke="#000" stroke-width="0.6">a</text>
</g>
<g>
<path d="M409.30 619.20V594.79M403.45 594.79H415.15" stroke="#000" stroke-width="2.0" fill="none"/>
<rect x="397.80" y="619.20" width="23.00" height="72.00" fill="#ffffff" stroke="#000" stroke-width="2.0"/>
<path d="M409.30 691.20v3.45" stroke="#000" stroke-width="1.5"/>
<path d="M444.75 569.93V543.04M438.90 543.04H450.60" stroke="#000" stroke-width="2.0" fill="none"/>
<rect x="433.25" y="569.93" width="23.00" height="121.27" fill="#d3d3d3" stroke="#000" stroke-width="2.0"/>
<path d="M444.75 691.20v3.45" stroke="#000" stroke-width="1.5"/>
<text class="s" transform="translate(444.75 536.67) scale(0.860 1.000)" font-size="10.5" text-anchor="middle" fill="#222" font-style="italic" stroke="#222" stroke-width="0.25">##</text>
<path d="M480.20 611.33V585.90M474.35 585.90H486.05" stroke="#000" stroke-width="2.0" fill="none"/>
<rect x="468.70" y="611.33" width="23.00" height="79.88" fill="#808080" stroke="#000" stroke-width="2.0"/>
<path d="M480.20 691.20v3.45" stroke="#000" stroke-width="1.5"/>
<text class="r" transform="translate(481.45 585.91) scale(0.850 1.200)" font-size="16" text-anchor="middle" fill="#2a2a2a" letter-spacing="3">**</text>
<path d="M515.65 599.40V574.76M509.80 574.76H521.50" stroke="#000" stroke-width="2.0" fill="none"/>
<rect x="504.15" y="599.40" width="23.00" height="91.80" fill="#606060" stroke="#000" stroke-width="2.0"/>
<path d="M515.65 691.20v3.45" stroke="#000" stroke-width="1.5"/>
<text class="r" transform="translate(516.90 576.91) scale(0.850 1.200)" font-size="16" text-anchor="middle" fill="#2a2a2a" letter-spacing="3">*</text>
<path d="M551.10 610.20V584.10M545.25 584.10H556.95" stroke="#000" stroke-width="2.0" fill="none"/>
<rect x="539.60" y="610.20" width="23.00" height="81.00" fill="#000000" stroke="#000" stroke-width="2.0"/>
<path d="M551.10 691.20v3.45" stroke="#000" stroke-width="1.5"/>
<text class="r" transform="translate(552.35 586.21) scale(0.850 1.200)" font-size="16" text-anchor="middle" fill="#2a2a2a" letter-spacing="3">**</text>
<path d="M586.55 611.44V588.15M580.70 588.15H592.40" stroke="#000" stroke-width="2.0" fill="none"/>
<rect x="575.05" y="611.44" width="23.00" height="79.76" fill="#000000" stroke="#000" stroke-width="2.0"/>
<path d="M586.55 691.20v3.45" stroke="#000" stroke-width="1.5"/>
<text class="r" transform="translate(587.80 588.61) scale(0.850 1.200)" font-size="16" text-anchor="middle" fill="#2a2a2a" letter-spacing="3">**</text>
<path d="M622.00 614.14V590.85M616.15 590.85H627.85" stroke="#000" stroke-width="2.0" fill="none"/>
<rect x="610.50" y="614.14" width="23.00" height="77.06" fill="#000000" stroke="#000" stroke-width="2.0"/>
<path d="M622.00 691.20v3.45" stroke="#000" stroke-width="1.5"/>
<text class="r" transform="translate(623.25 591.41) scale(0.850 1.200)" font-size="16" text-anchor="middle" fill="#2a2a2a" letter-spacing="3">**</text>
<path d="M391.30 521.70V691.20H640.30" stroke="#000" stroke-width="1.5" fill="none"/>
<path d="M391.30 522.45h-3.15" stroke="#000" stroke-width="1.5"/>
<text class="s" transform="translate(386.75 526.05) scale(0.930 1.000)" font-size="10.712000000000002" text-anchor="end" font-weight="bold" fill="#000">150</text>
<path d="M391.30 578.70h-3.15" stroke="#000" stroke-width="1.5"/>
<text class="s" transform="translate(386.75 582.30) scale(0.930 1.000)" font-size="10.712000000000002" text-anchor="end" font-weight="bold" fill="#000">100</text>
<path d="M391.30 634.95h-3.15" stroke="#000" stroke-width="1.5"/>
<text class="s" transform="translate(386.75 638.55) scale(0.930 1.000)" font-size="10.712000000000002" text-anchor="end" font-weight="bold" fill="#000">50</text>
<path d="M391.30 691.20h-3.15" stroke="#000" stroke-width="1.5"/>
<text class="s" transform="translate(386.75 694.80) scale(0.930 1.000)" font-size="10.712000000000002" text-anchor="end" font-weight="bold" fill="#000">0</text>
<text class="s" transform="translate(362.70 607.00) rotate(-90) scale(0.993 1)" font-size="14.8" text-anchor="middle" font-weight="bold">IL-1β (ng/L)</text>
<text class="s" transform="translate(409.30 707.44) scale(1.020 1.000)" font-size="11" text-anchor="middle" font-weight="bold" fill="#000">Intact</text>
<text class="s" transform="translate(444.75 707.44) scale(1.020 1.000)" font-size="11" text-anchor="middle" font-weight="bold" fill="#000">Vehicle</text>
<text class="s" transform="translate(480.20 707.44) scale(1.020 1.000)" font-size="11" text-anchor="middle" font-weight="bold" fill="#000">30</text>
<text class="s" transform="translate(515.65 707.44) scale(1.020 1.000)" font-size="11" text-anchor="middle" font-weight="bold" fill="#000">20</text>
<text class="s" transform="translate(551.10 707.44) scale(1.020 1.000)" font-size="11" text-anchor="middle" font-weight="bold" fill="#000">10</text>
<text class="s" transform="translate(586.55 707.44) scale(1.020 1.000)" font-size="11" text-anchor="middle" font-weight="bold" fill="#000">20</text>
<text class="s" transform="translate(622.00 707.44) scale(1.020 1.000)" font-size="11" text-anchor="middle" font-weight="bold" fill="#000">40</text>
<text class="s" transform="translate(632.30 707.44) scale(1.020 1.000)" font-size="11" text-anchor="start" font-weight="bold" fill="#000">(mg/kg)</text>
<path d="M468.70 710.00H491.70M504.15 710.00H527.15M542.30 710.00H631.70" stroke="#000" stroke-width="1.5"/>
<text class="s" transform="translate(480.20 722.14) scale(1.020 1.000)" font-size="11" text-anchor="middle" font-weight="bold" fill="#000">LSZ</text>
<text class="s" transform="translate(515.65 722.14) scale(1.020 1.000)" font-size="11" text-anchor="middle" font-weight="bold" fill="#000">PA</text>
<text class="s" transform="translate(586.55 722.14) scale(1.020 1.000)" font-size="11" text-anchor="middle" font-weight="bold" fill="#000">β- PAE</text>
<path d="M437.00 726.20H631.00" stroke="#000" stroke-width="1.5"/>
<text class="s" transform="translate(456.30 739.54) scale(0.975 1.000)" font-size="11" text-anchor="start" font-weight="bold" fill="#000">Absolute ethanol (0.5mL/100g)</text>
<text class="r" transform="translate(370.80 512.00) scale(1.050 1.000)" font-size="31.5" text-anchor="start" font-weight="bold" fill="#000" stroke="#000" stroke-width="0.6">b</text>
</g>
<g>
<path d="M91.00 848.69V829.81M85.50 829.81H96.50" stroke="#000" stroke-width="2.0" fill="none"/>
<rect x="79.95" y="848.69" width="22.10" height="69.41" fill="#ffffff" stroke="#000" stroke-width="1.9"/>
<path d="M91.00 918.10v3.25" stroke="#000" stroke-width="1.7"/>
<path d="M123.85 793.93V773.06M118.35 773.06H129.35" stroke="#000" stroke-width="2.0" fill="none"/>
<rect x="112.80" y="793.93" width="22.10" height="124.17" fill="#d3d3d3" stroke="#000" stroke-width="1.9"/>
<path d="M123.85 918.10v3.25" stroke="#000" stroke-width="1.7"/>
<text class="s" transform="translate(123.85 765.97) scale(0.860 1.000)" font-size="10.5" text-anchor="middle" fill="#222" font-style="italic" stroke="#222" stroke-width="0.25">##</text>
<path d="M156.70 836.58V819.26M151.20 819.26H162.20" stroke="#000" stroke-width="2.0" fill="none"/>
<rect x="145.65" y="836.58" width="22.10" height="81.52" fill="#808080" stroke="#000" stroke-width="1.9"/>
<path d="M156.70 918.10v3.25" stroke="#000" stroke-width="1.7"/>
<text class="r" transform="translate(157.95 819.59) scale(0.850 1.300)" font-size="16" text-anchor="middle" fill="#2a2a2a" letter-spacing="3">**</text>
<path d="M189.55 820.15V798.16M184.05 798.16H195.05" stroke="#000" stroke-width="2.0" fill="none"/>
<rect x="178.50" y="820.15" width="22.10" height="97.95" fill="#606060" stroke="#000" stroke-width="1.9"/>
<path d="M189.55 918.10v3.25" stroke="#000" stroke-width="1.7"/>
<text class="r" transform="translate(190.80 800.99) scale(0.850 1.300)" font-size="16" text-anchor="middle" fill="#2a2a2a" letter-spacing="3">*</text>
<path d="M222.40 831.08V809.71M216.90 809.71H227.90" stroke="#000" stroke-width="2.0" fill="none"/>
<rect x="211.35" y="831.08" width="22.10" height="87.02" fill="#000000" stroke="#000" stroke-width="1.9"/>
<path d="M222.40 918.10v3.25" stroke="#000" stroke-width="1.7"/>
<text class="r" transform="translate(223.65 809.49) scale(0.850 1.300)" font-size="16" text-anchor="middle" fill="#2a2a2a" letter-spacing="3">**</text>
<path d="M255.25 836.19V818.15M249.75 818.15H260.75" stroke="#000" stroke-width="2.0" fill="none"/>
<rect x="244.20" y="836.19" width="22.10" height="81.91" fill="#000000" stroke="#000" stroke-width="1.9"/>
<path d="M255.25 918.10v3.25" stroke="#000" stroke-width="1.7"/>
<text class="r" transform="translate(256.50 818.89) scale(0.850 1.300)" font-size="16" text-anchor="middle" fill="#2a2a2a" letter-spacing="3">**</text>
<path d="M288.10 837.80V814.26M282.60 814.26H293.60" stroke="#000" stroke-width="2.0" fill="none"/>
<rect x="277.05" y="837.80" width="22.10" height="80.30" fill="#000000" stroke="#000" stroke-width="1.9"/>
<path d="M288.10 918.10v3.25" stroke="#000" stroke-width="1.7"/>
<text class="r" transform="translate(289.35 814.89) scale(0.850 1.300)" font-size="16" text-anchor="middle" fill="#2a2a2a" letter-spacing="3">**</text>
<path d="M74.80 750.66V918.10H304.80" stroke="#000" stroke-width="1.7" fill="none"/>
<path d="M74.80 751.51h-3.25" stroke="#000" stroke-width="1.7"/>
<text class="s" transform="translate(70.15 754.96) scale(0.890 1.000)" font-size="10.296000000000001" text-anchor="end" font-weight="bold" fill="#000">300</text>
<path d="M74.80 807.04h-3.25" stroke="#000" stroke-width="1.7"/>
<text class="s" transform="translate(70.15 810.49) scale(0.890 1.000)" font-size="10.296000000000001" text-anchor="end" font-weight="bold" fill="#000">200</text>
<path d="M74.80 862.57h-3.25" stroke="#000" stroke-width="1.7"/>
<text class="s" transform="translate(70.15 866.02) scale(0.890 1.000)" font-size="10.296000000000001" text-anchor="end" font-weight="bold" fill="#000">100</text>
<path d="M74.80 918.10h-3.25" stroke="#000" stroke-width="1.7"/>
<text class="s" transform="translate(70.15 921.55) scale(0.890 1.000)" font-size="10.296000000000001" text-anchor="end" font-weight="bold" fill="#000">0</text>
<text class="s" transform="translate(48.20 834.40) rotate(-90) scale(1.088 1)" font-size="13.5" text-anchor="middle" font-weight="bold">IL-6 (ng/L)</text>
<text class="s" transform="translate(91.00 933.84) scale(0.920 1.000)" font-size="11" text-anchor="middle" font-weight="bold" fill="#000">Intact</text>
<text class="s" transform="translate(123.85 933.84) scale(0.920 1.000)" font-size="11" text-anchor="middle" font-weight="bold" fill="#000">Vehicle</text>
<text class="s" transform="translate(156.70 933.84) scale(0.920 1.000)" font-size="11" text-anchor="middle" font-weight="bold" fill="#000">30</text>
<text class="s" transform="translate(189.55 933.84) scale(0.920 1.000)" font-size="11" text-anchor="middle" font-weight="bold" fill="#000">20</text>
<text class="s" transform="translate(222.40 933.84) scale(0.920 1.000)" font-size="11" text-anchor="middle" font-weight="bold" fill="#000">10</text>
<text class="s" transform="translate(255.25 933.84) scale(0.920 1.000)" font-size="11" text-anchor="middle" font-weight="bold" fill="#000">20</text>
<text class="s" transform="translate(288.10 933.84) scale(0.920 1.000)" font-size="11" text-anchor="middle" font-weight="bold" fill="#000">40</text>
<text class="s" transform="translate(295.30 933.84) scale(0.920 1.000)" font-size="11" text-anchor="start" font-weight="bold" fill="#000">(mg/kg)</text>
<path d="M145.70 936.70H167.70M178.55 936.70H200.55M213.20 936.70H295.00" stroke="#000" stroke-width="1.6"/>
<text class="s" transform="translate(156.70 949.54) scale(0.920 1.000)" font-size="11" text-anchor="middle" font-weight="bold" fill="#000">LSZ</text>
<text class="s" transform="translate(189.55 949.54) scale(0.920 1.000)" font-size="11" text-anchor="middle" font-weight="bold" fill="#000">PA</text>
<text class="s" transform="translate(253.25 949.54) scale(0.920 1.000)" font-size="11" text-anchor="middle" font-weight="bold" fill="#000">β- PAE</text>
<path d="M118.40 953.60H293.30" stroke="#000" stroke-width="1.6"/>
<text class="s" transform="translate(135.60 966.04) scale(0.888 1.000)" font-size="11" text-anchor="start" font-weight="bold" fill="#000">Absolute ethanol (0.5mL/100g)</text>
<text class="r" transform="translate(55.00 740.60) scale(1.000 1.000)" font-size="33" text-anchor="start" font-weight="bold" fill="#000" stroke="#000" stroke-width="0.6">c</text>
</g>
</svg>
</body></html>
